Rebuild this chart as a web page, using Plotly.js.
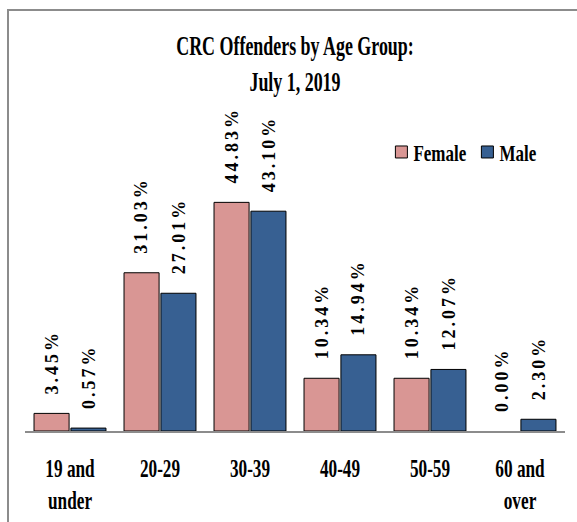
<!DOCTYPE html>
<html>
<head>
<meta charset="utf-8">
<script src="https://cdn.plot.ly/plotly-3.0.1.min.js"></script>
<style>
  html, body { margin: 0; padding: 0; background: #ffffff; }
  #frame { position: absolute; left: 7px; top: 9px; width: 620px; height: 560px;
           border-left: 2px solid #8c8c8c; border-top: 2px solid #8c8c8c; }
  #chart { position: absolute; left: 0; top: 0; width: 577px; height: 522px; }
  .annotation-text { letter-spacing: 3px; }
  /* the reference uses a tall, narrow (condensed) Times Bold */
  text.gtitle { transform-box: fill-box; transform-origin: center; transform: scaleX(0.64); }
  g.xtick { transform-box: fill-box; transform-origin: center; transform: scaleX(0.69); }
  text.legendtext { transform-box: fill-box; transform-origin: left center; transform: translateX(-8px) scaleX(0.74); }
</style>
</head>
<body>
<div id="frame"></div>
<div id="chart"></div>
<script>
// ---- data ----
var categories = ['19 and under', '20-29', '30-39', '40-49', '50-59', '60 and over'];
var tickLabels = ['19 and<br>under', '20-29', '30-39', '40-49', '50-59', '60 and<br>over'];
var female = [3.45, 31.03, 44.83, 10.34, 10.34, 0.00];
var male = [0.57, 27.01, 43.10, 14.94, 12.07, 2.30];
var seriesNames = ['Female', 'Male'];

// ---- style ----
var W = 577, H = 522;
var margin = { l: 25, r: 12, t: 176, b: 91 };
var bargap = 0.18, bargroupgap = 0.05;
var colors = ['#D99694', '#376092'];
var serif = "'Liberation Serif', 'Times New Roman', serif";

var traces = [female, male].map(function (vals, i) {
  return {
    type: 'bar',
    name: seriesNames[i],
    x: categories,
    y: vals,
    marker: {
      color: colors[i],
      line: { color: '#000000', width: vals.map(function (v) { return v > 0 ? 1 : 0; }) }
    },
    hoverinfo: 'none'
  };
});

// data labels as annotations anchored at each bar top
var catPx = (W - margin.l - margin.r) / categories.length;
var halfSlot = (1 - bargap) * catPx / 4;
var annotations = [];
[female, male].forEach(function (vals, i) {
  vals.forEach(function (v, j) {
    annotations.push({
      x: categories[j], y: v, xref: 'x', yref: 'y',
      text: v.toFixed(2) + '%',
      showarrow: false,
      textangle: -90,
      xanchor: 'center', yanchor: 'bottom',
      xshift: i === 0 ? -halfSlot : halfSlot,
      yshift: 17,
      font: { family: serif, size: 18, color: '#000000', weight: 'bold' }
    });
  });
});

var layout = {
  width: W, height: H,
  margin: margin,
  paper_bgcolor: 'rgba(0,0,0,0)',
  plot_bgcolor: 'rgba(0,0,0,0)',
  barmode: 'group',
  bargap: bargap,
  bargroupgap: bargroupgap,
  title: {
    text: 'CRC Offenders by Age Group:<br>July 1, 2019',
    font: { family: serif, size: 28, color: '#000000', weight: 'bold' },
    xref: 'paper', x: 0.5, xanchor: 'center',
    yref: 'container', y: 1 - 55 / H, yanchor: 'middle'
  },
  xaxis: {
    type: 'category',
    tickvals: categories,
    ticktext: tickLabels,
    showline: true, linecolor: '#8c8c8c', linewidth: 2,
    ticks: 'outside', ticklen: 14, tickcolor: 'rgba(0,0,0,0)',
    tickfont: { family: serif, size: 25, color: '#000000', weight: 'bold' },
    showgrid: false, zeroline: false, fixedrange: true
  },
  yaxis: {
    range: [0, 50],
    visible: false,
    showgrid: false, zeroline: false, fixedrange: true
  },
  showlegend: true,
  legend: {
    orientation: 'h',
    x: 0.66, xanchor: 'left',
    y: 1.094, yanchor: 'middle',
    entrywidth: 41,
    font: { family: serif, size: 23, color: '#000000', weight: 'bold' },
    bgcolor: 'rgba(0,0,0,0)',
    itemclick: false, itemdoubleclick: false
  },
  annotations: annotations
};

Plotly.newPlot('chart', traces, layout, { displayModeBar: false, staticPlot: true });
</script>
</body>
</html>
